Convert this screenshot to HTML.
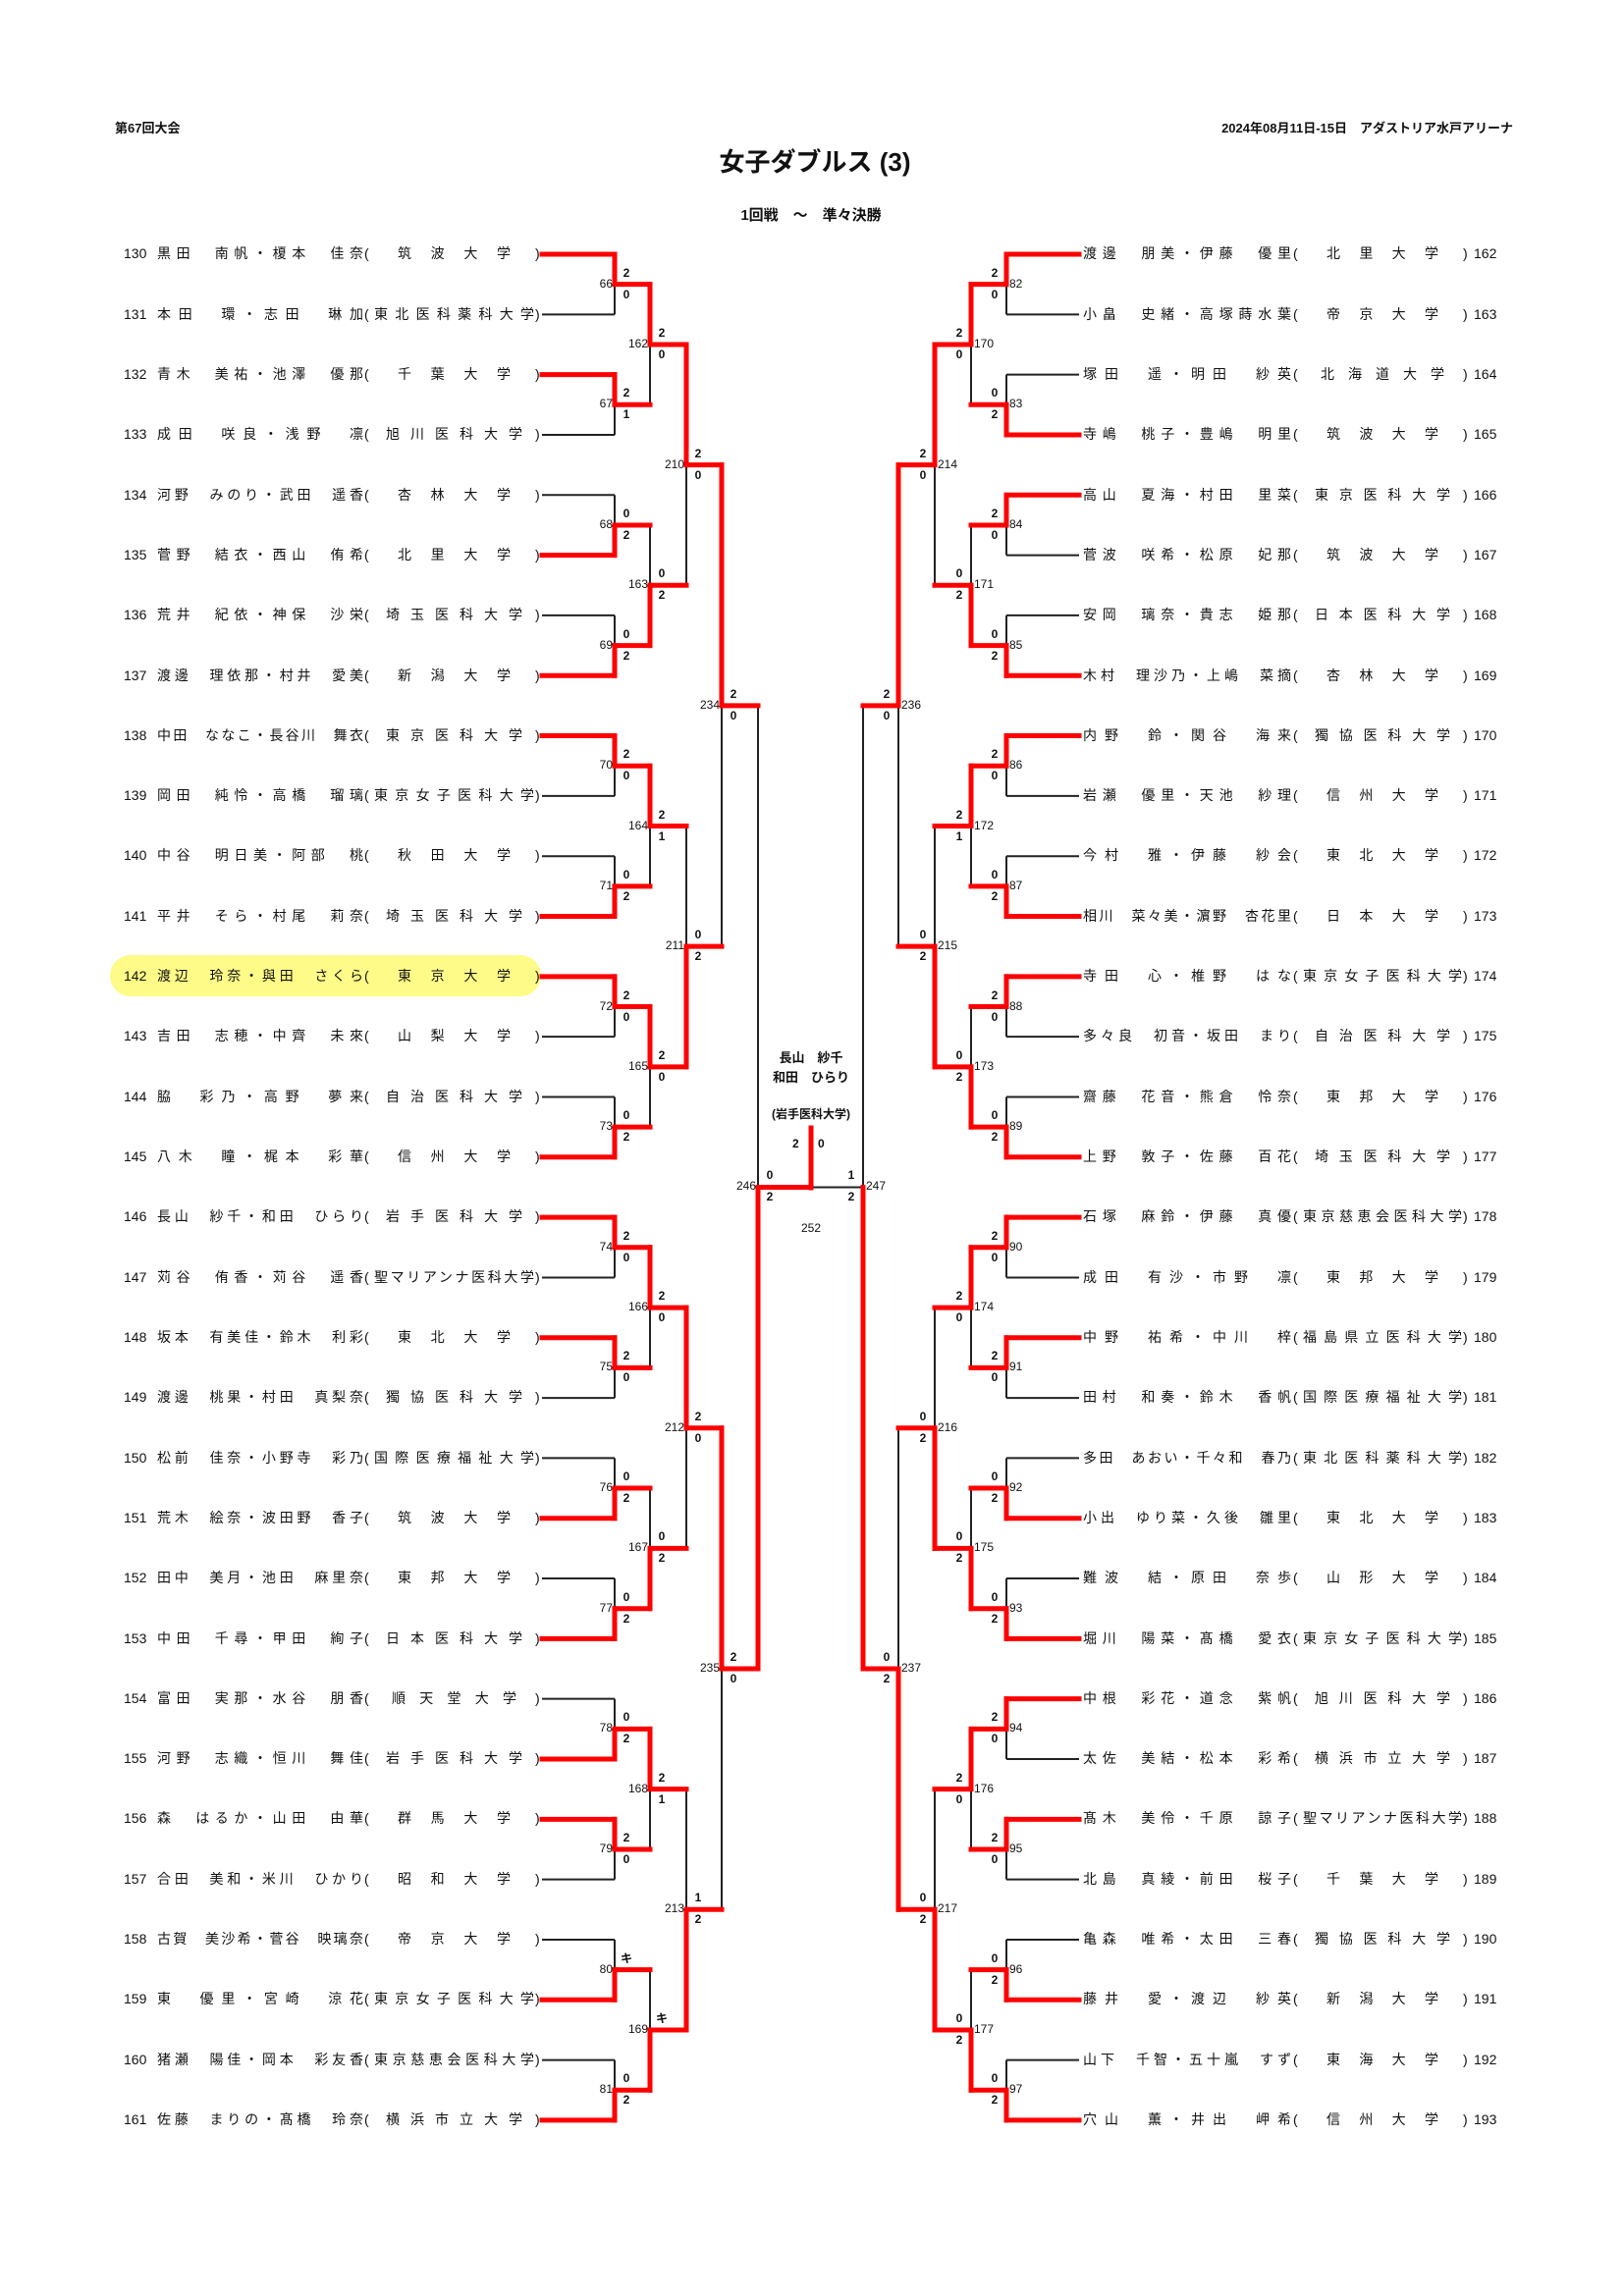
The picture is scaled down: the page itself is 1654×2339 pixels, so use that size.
<!DOCTYPE html>
<html><head><meta charset="utf-8">
<style>
*{margin:0;padding:0;box-sizing:border-box}
body{width:1654px;height:2339px;background:#fff;position:relative;overflow:hidden;font-family:"Liberation Sans","Noto Sans CJK JP",sans-serif;color:#111}
.abs{position:absolute;white-space:nowrap}
.rows{position:absolute;left:0;top:228.34px;width:1654px}
.rows>div{position:relative;height:61.32px;line-height:61.32px;font-size:14px}
.rows i{font-style:normal;position:absolute;top:0;white-space:nowrap}
.rows .nm,.rows .sc{text-align:justify;text-align-last:justify}
.lf .no{left:126px}.lf .nm{left:160px;width:210px}.lf .pa{left:371px}.lf .sc{left:381px;width:163px}.lf .pb{left:545px}
.rt .no{left:1501px}.rt .nm{left:1103px;width:212px}.rt .pa{left:1317px}.rt .sc{left:1327px;width:162px}.rt .pb{left:1490px}
.ml{position:absolute;width:0;height:0;font-size:12px}
.ml span{position:absolute;white-space:nowrap;line-height:14px}
.ml b{position:absolute;width:14px;text-align:center;line-height:14px;font-size:12px}
.ml.L span{right:2px;top:-8px}
.ml.L b{left:5px}
.ml.R span{left:3px;top:-8px}
.ml.R b{right:5px}
.ml b.t{top:-19px}.ml b.u{top:3px}
svg{position:absolute;left:0;top:0}
</style></head><body>
<div class="abs" style="left:117px;top:120px;font-size:13px;font-weight:bold">第67回大会</div>
<div class="abs" style="right:113px;top:120px;font-size:13px;font-weight:bold">2024年08月11日-15日　アダストリア水戸アリーナ</div>
<div class="abs" style="left:0;width:1660px;text-align:center;top:145px;font-size:26px;font-weight:bold">女子ダブルス (3)</div>
<div class="abs" style="left:0;width:1652px;text-align:center;top:208px;font-size:15px;font-weight:bold">1回戦　～　準々決勝</div>
<div class="abs" style="left:112px;top:973px;width:439px;height:42px;border-radius:21px;background:#fffb88"></div>

<svg id="sv" width="1654" height="2339"></svg>

<div class="rows lf">
<div><i class="no">130</i><i class="nm">黒田　南帆・榎本　佳奈</i><i class="pa">(</i><i class="sc">筑波大学</i><i class="pb">)</i></div>
<div><i class="no">131</i><i class="nm">本田　環・志田　琳加</i><i class="pa">(</i><i class="sc">東北医科薬科大学</i><i class="pb">)</i></div>
<div><i class="no">132</i><i class="nm">青木　美祐・池澤　優那</i><i class="pa">(</i><i class="sc">千葉大学</i><i class="pb">)</i></div>
<div><i class="no">133</i><i class="nm">成田　咲良・浅野　凛</i><i class="pa">(</i><i class="sc">旭川医科大学</i><i class="pb">)</i></div>
<div><i class="no">134</i><i class="nm">河野　みのり・武田　遥香</i><i class="pa">(</i><i class="sc">杏林大学</i><i class="pb">)</i></div>
<div><i class="no">135</i><i class="nm">菅野　結衣・西山　侑希</i><i class="pa">(</i><i class="sc">北里大学</i><i class="pb">)</i></div>
<div><i class="no">136</i><i class="nm">荒井　紀依・神保　沙栄</i><i class="pa">(</i><i class="sc">埼玉医科大学</i><i class="pb">)</i></div>
<div><i class="no">137</i><i class="nm">渡邊　理依那・村井　愛美</i><i class="pa">(</i><i class="sc">新潟大学</i><i class="pb">)</i></div>
<div><i class="no">138</i><i class="nm">中田　ななこ・長谷川　舞衣</i><i class="pa">(</i><i class="sc">東京医科大学</i><i class="pb">)</i></div>
<div><i class="no">139</i><i class="nm">岡田　純怜・高橋　瑠璃</i><i class="pa">(</i><i class="sc">東京女子医科大学</i><i class="pb">)</i></div>
<div><i class="no">140</i><i class="nm">中谷　明日美・阿部　桃</i><i class="pa">(</i><i class="sc">秋田大学</i><i class="pb">)</i></div>
<div><i class="no">141</i><i class="nm">平井　そら・村尾　莉奈</i><i class="pa">(</i><i class="sc">埼玉医科大学</i><i class="pb">)</i></div>
<div><i class="no">142</i><i class="nm">渡辺　玲奈・與田　さくら</i><i class="pa">(</i><i class="sc">東京大学</i><i class="pb">)</i></div>
<div><i class="no">143</i><i class="nm">吉田　志穂・中齊　未來</i><i class="pa">(</i><i class="sc">山梨大学</i><i class="pb">)</i></div>
<div><i class="no">144</i><i class="nm">脇　彩乃・高野　夢来</i><i class="pa">(</i><i class="sc">自治医科大学</i><i class="pb">)</i></div>
<div><i class="no">145</i><i class="nm">八木　瞳・梶本　彩華</i><i class="pa">(</i><i class="sc">信州大学</i><i class="pb">)</i></div>
<div><i class="no">146</i><i class="nm">長山　紗千・和田　ひらり</i><i class="pa">(</i><i class="sc">岩手医科大学</i><i class="pb">)</i></div>
<div><i class="no">147</i><i class="nm">苅谷　侑香・苅谷　遥香</i><i class="pa">(</i><i class="sc">聖マリアンナ医科大学</i><i class="pb">)</i></div>
<div><i class="no">148</i><i class="nm">坂本　有美佳・鈴木　利彩</i><i class="pa">(</i><i class="sc">東北大学</i><i class="pb">)</i></div>
<div><i class="no">149</i><i class="nm">渡邊　桃果・村田　真梨奈</i><i class="pa">(</i><i class="sc">獨協医科大学</i><i class="pb">)</i></div>
<div><i class="no">150</i><i class="nm">松前　佳奈・小野寺　彩乃</i><i class="pa">(</i><i class="sc">国際医療福祉大学</i><i class="pb">)</i></div>
<div><i class="no">151</i><i class="nm">荒木　絵奈・波田野　香子</i><i class="pa">(</i><i class="sc">筑波大学</i><i class="pb">)</i></div>
<div><i class="no">152</i><i class="nm">田中　美月・池田　麻里奈</i><i class="pa">(</i><i class="sc">東邦大学</i><i class="pb">)</i></div>
<div><i class="no">153</i><i class="nm">中田　千尋・甲田　絢子</i><i class="pa">(</i><i class="sc">日本医科大学</i><i class="pb">)</i></div>
<div><i class="no">154</i><i class="nm">富田　実那・水谷　朋香</i><i class="pa">(</i><i class="sc">順天堂大学</i><i class="pb">)</i></div>
<div><i class="no">155</i><i class="nm">河野　志織・恒川　舞佳</i><i class="pa">(</i><i class="sc">岩手医科大学</i><i class="pb">)</i></div>
<div><i class="no">156</i><i class="nm">森　はるか・山田　由華</i><i class="pa">(</i><i class="sc">群馬大学</i><i class="pb">)</i></div>
<div><i class="no">157</i><i class="nm">合田　美和・米川　ひかり</i><i class="pa">(</i><i class="sc">昭和大学</i><i class="pb">)</i></div>
<div><i class="no">158</i><i class="nm">古賀　美沙希・菅谷　映璃奈</i><i class="pa">(</i><i class="sc">帝京大学</i><i class="pb">)</i></div>
<div><i class="no">159</i><i class="nm">東　優里・宮崎　涼花</i><i class="pa">(</i><i class="sc">東京女子医科大学</i><i class="pb">)</i></div>
<div><i class="no">160</i><i class="nm">猪瀬　陽佳・岡本　彩友香</i><i class="pa">(</i><i class="sc">東京慈恵会医科大学</i><i class="pb">)</i></div>
<div><i class="no">161</i><i class="nm">佐藤　まりの・髙橋　玲奈</i><i class="pa">(</i><i class="sc">横浜市立大学</i><i class="pb">)</i></div>
</div>

<div class="rows rt">
<div><i class="nm">渡邊　朋美・伊藤　優里</i><i class="pa">(</i><i class="sc">北里大学</i><i class="pb">)</i><i class="no">162</i></div>
<div><i class="nm">小畠　史緒・高塚蒔水葉</i><i class="pa">(</i><i class="sc">帝京大学</i><i class="pb">)</i><i class="no">163</i></div>
<div><i class="nm">塚田　遥・明田　紗英</i><i class="pa">(</i><i class="sc">北海道大学</i><i class="pb">)</i><i class="no">164</i></div>
<div><i class="nm">寺嶋　桃子・豊嶋　明里</i><i class="pa">(</i><i class="sc">筑波大学</i><i class="pb">)</i><i class="no">165</i></div>
<div><i class="nm">高山　夏海・村田　里菜</i><i class="pa">(</i><i class="sc">東京医科大学</i><i class="pb">)</i><i class="no">166</i></div>
<div><i class="nm">菅波　咲希・松原　妃那</i><i class="pa">(</i><i class="sc">筑波大学</i><i class="pb">)</i><i class="no">167</i></div>
<div><i class="nm">安岡　璃奈・貴志　姫那</i><i class="pa">(</i><i class="sc">日本医科大学</i><i class="pb">)</i><i class="no">168</i></div>
<div><i class="nm">木村　理沙乃・上嶋　菜摘</i><i class="pa">(</i><i class="sc">杏林大学</i><i class="pb">)</i><i class="no">169</i></div>
<div><i class="nm">内野　鈴・関谷　海来</i><i class="pa">(</i><i class="sc">獨協医科大学</i><i class="pb">)</i><i class="no">170</i></div>
<div><i class="nm">岩瀬　優里・天池　紗理</i><i class="pa">(</i><i class="sc">信州大学</i><i class="pb">)</i><i class="no">171</i></div>
<div><i class="nm">今村　雅・伊藤　紗会</i><i class="pa">(</i><i class="sc">東北大学</i><i class="pb">)</i><i class="no">172</i></div>
<div><i class="nm">相川　菜々美・濵野　杏花里</i><i class="pa">(</i><i class="sc">日本大学</i><i class="pb">)</i><i class="no">173</i></div>
<div><i class="nm">寺田　心・椎野　はな</i><i class="pa">(</i><i class="sc">東京女子医科大学</i><i class="pb">)</i><i class="no">174</i></div>
<div><i class="nm">多々良　初音・坂田　まり</i><i class="pa">(</i><i class="sc">自治医科大学</i><i class="pb">)</i><i class="no">175</i></div>
<div><i class="nm">齋藤　花音・熊倉　怜奈</i><i class="pa">(</i><i class="sc">東邦大学</i><i class="pb">)</i><i class="no">176</i></div>
<div><i class="nm">上野　敦子・佐藤　百花</i><i class="pa">(</i><i class="sc">埼玉医科大学</i><i class="pb">)</i><i class="no">177</i></div>
<div><i class="nm">石塚　麻鈴・伊藤　真優</i><i class="pa">(</i><i class="sc">東京慈恵会医科大学</i><i class="pb">)</i><i class="no">178</i></div>
<div><i class="nm">成田　有沙・市野　凛</i><i class="pa">(</i><i class="sc">東邦大学</i><i class="pb">)</i><i class="no">179</i></div>
<div><i class="nm">中野　祐希・中川　梓</i><i class="pa">(</i><i class="sc">福島県立医科大学</i><i class="pb">)</i><i class="no">180</i></div>
<div><i class="nm">田村　和奏・鈴木　香帆</i><i class="pa">(</i><i class="sc">国際医療福祉大学</i><i class="pb">)</i><i class="no">181</i></div>
<div><i class="nm">多田　あおい・千々和　春乃</i><i class="pa">(</i><i class="sc">東北医科薬科大学</i><i class="pb">)</i><i class="no">182</i></div>
<div><i class="nm">小出　ゆり菜・久後　雛里</i><i class="pa">(</i><i class="sc">東北大学</i><i class="pb">)</i><i class="no">183</i></div>
<div><i class="nm">難波　結・原田　奈歩</i><i class="pa">(</i><i class="sc">山形大学</i><i class="pb">)</i><i class="no">184</i></div>
<div><i class="nm">堀川　陽菜・髙橋　愛衣</i><i class="pa">(</i><i class="sc">東京女子医科大学</i><i class="pb">)</i><i class="no">185</i></div>
<div><i class="nm">中根　彩花・道念　紫帆</i><i class="pa">(</i><i class="sc">旭川医科大学</i><i class="pb">)</i><i class="no">186</i></div>
<div><i class="nm">太佐　美結・松本　彩希</i><i class="pa">(</i><i class="sc">横浜市立大学</i><i class="pb">)</i><i class="no">187</i></div>
<div><i class="nm">髙木　美伶・千原　諒子</i><i class="pa">(</i><i class="sc">聖マリアンナ医科大学</i><i class="pb">)</i><i class="no">188</i></div>
<div><i class="nm">北島　真綾・前田　桜子</i><i class="pa">(</i><i class="sc">千葉大学</i><i class="pb">)</i><i class="no">189</i></div>
<div><i class="nm">亀森　唯希・太田　三春</i><i class="pa">(</i><i class="sc">獨協医科大学</i><i class="pb">)</i><i class="no">190</i></div>
<div><i class="nm">藤井　愛・渡辺　紗英</i><i class="pa">(</i><i class="sc">新潟大学</i><i class="pb">)</i><i class="no">191</i></div>
<div><i class="nm">山下　千智・五十嵐　すず</i><i class="pa">(</i><i class="sc">東海大学</i><i class="pb">)</i><i class="no">192</i></div>
<div><i class="nm">穴山　薫・井出　岬希</i><i class="pa">(</i><i class="sc">信州大学</i><i class="pb">)</i><i class="no">193</i></div>
</div>

<div id="labels">
<div class="ml L"><span>66</span><b class="t">2</b><b class="u">0</b></div>
<div class="ml L"><span>67</span><b class="t">2</b><b class="u">1</b></div>
<div class="ml L"><span>68</span><b class="t">0</b><b class="u">2</b></div>
<div class="ml L"><span>69</span><b class="t">0</b><b class="u">2</b></div>
<div class="ml L"><span>70</span><b class="t">2</b><b class="u">0</b></div>
<div class="ml L"><span>71</span><b class="t">0</b><b class="u">2</b></div>
<div class="ml L"><span>72</span><b class="t">2</b><b class="u">0</b></div>
<div class="ml L"><span>73</span><b class="t">0</b><b class="u">2</b></div>
<div class="ml L"><span>74</span><b class="t">2</b><b class="u">0</b></div>
<div class="ml L"><span>75</span><b class="t">2</b><b class="u">0</b></div>
<div class="ml L"><span>76</span><b class="t">0</b><b class="u">2</b></div>
<div class="ml L"><span>77</span><b class="t">0</b><b class="u">2</b></div>
<div class="ml L"><span>78</span><b class="t">0</b><b class="u">2</b></div>
<div class="ml L"><span>79</span><b class="t">2</b><b class="u">0</b></div>
<div class="ml L"><span>80</span><b class="t">キ</b></div>
<div class="ml L"><span>81</span><b class="t">0</b><b class="u">2</b></div>
<div class="ml L"><span>162</span><b class="t">2</b><b class="u">0</b></div>
<div class="ml L"><span>163</span><b class="t">0</b><b class="u">2</b></div>
<div class="ml L"><span>164</span><b class="t">2</b><b class="u">1</b></div>
<div class="ml L"><span>165</span><b class="t">2</b><b class="u">0</b></div>
<div class="ml L"><span>166</span><b class="t">2</b><b class="u">0</b></div>
<div class="ml L"><span>167</span><b class="t">0</b><b class="u">2</b></div>
<div class="ml L"><span>168</span><b class="t">2</b><b class="u">1</b></div>
<div class="ml L"><span>169</span><b class="t">キ</b></div>
<div class="ml L"><span>210</span><b class="t">2</b><b class="u">0</b></div>
<div class="ml L"><span>211</span><b class="t">0</b><b class="u">2</b></div>
<div class="ml L"><span>212</span><b class="t">2</b><b class="u">0</b></div>
<div class="ml L"><span>213</span><b class="t">1</b><b class="u">2</b></div>
<div class="ml L"><span>234</span><b class="t">2</b><b class="u">0</b></div>
<div class="ml L"><span>235</span><b class="t">2</b><b class="u">0</b></div>
<div class="ml L"><span>246</span><b class="t">0</b><b class="u">2</b></div>
<div class="ml R"><span>82</span><b class="t">2</b><b class="u">0</b></div>
<div class="ml R"><span>83</span><b class="t">0</b><b class="u">2</b></div>
<div class="ml R"><span>84</span><b class="t">2</b><b class="u">0</b></div>
<div class="ml R"><span>85</span><b class="t">0</b><b class="u">2</b></div>
<div class="ml R"><span>86</span><b class="t">2</b><b class="u">0</b></div>
<div class="ml R"><span>87</span><b class="t">0</b><b class="u">2</b></div>
<div class="ml R"><span>88</span><b class="t">2</b><b class="u">0</b></div>
<div class="ml R"><span>89</span><b class="t">0</b><b class="u">2</b></div>
<div class="ml R"><span>90</span><b class="t">2</b><b class="u">0</b></div>
<div class="ml R"><span>91</span><b class="t">2</b><b class="u">0</b></div>
<div class="ml R"><span>92</span><b class="t">0</b><b class="u">2</b></div>
<div class="ml R"><span>93</span><b class="t">0</b><b class="u">2</b></div>
<div class="ml R"><span>94</span><b class="t">2</b><b class="u">0</b></div>
<div class="ml R"><span>95</span><b class="t">2</b><b class="u">0</b></div>
<div class="ml R"><span>96</span><b class="t">0</b><b class="u">2</b></div>
<div class="ml R"><span>97</span><b class="t">0</b><b class="u">2</b></div>
<div class="ml R"><span>170</span><b class="t">2</b><b class="u">0</b></div>
<div class="ml R"><span>171</span><b class="t">0</b><b class="u">2</b></div>
<div class="ml R"><span>172</span><b class="t">2</b><b class="u">1</b></div>
<div class="ml R"><span>173</span><b class="t">0</b><b class="u">2</b></div>
<div class="ml R"><span>174</span><b class="t">2</b><b class="u">0</b></div>
<div class="ml R"><span>175</span><b class="t">0</b><b class="u">2</b></div>
<div class="ml R"><span>176</span><b class="t">2</b><b class="u">0</b></div>
<div class="ml R"><span>177</span><b class="t">0</b><b class="u">2</b></div>
<div class="ml R"><span>214</span><b class="t">2</b><b class="u">0</b></div>
<div class="ml R"><span>215</span><b class="t">0</b><b class="u">2</b></div>
<div class="ml R"><span>216</span><b class="t">0</b><b class="u">2</b></div>
<div class="ml R"><span>217</span><b class="t">0</b><b class="u">2</b></div>
<div class="ml R"><span>236</span><b class="t">2</b><b class="u">0</b></div>
<div class="ml R"><span>237</span><b class="t">0</b><b class="u">2</b></div>
<div class="ml R"><span>247</span><b class="t">1</b><b class="u">2</b></div>
</div>

<div class="abs" style="left:726px;width:200px;text-align:center;top:1068px;font-size:13px;font-weight:bold;line-height:20px">長山　紗千<br>和田　ひらり</div>
<div class="abs" style="left:726px;width:200px;text-align:center;top:1126px;font-size:12px;font-weight:bold">(岩手医科大学)</div>
<div class="abs" style="left:807px;top:1158px;font-size:12px;font-weight:bold">2</div>
<div class="abs" style="left:833px;top:1158px;font-size:12px;font-weight:bold">0</div>
<div class="abs" style="left:726px;width:200px;text-align:center;top:1244px;font-size:12px">252</div>

<script>
(function(){
var P=61.32,Y0=259,C=826;
function ry(i){return Y0+P*i;}
var sv=document.getElementById('sv');
var blk=[],red=[];
function ln(x1,y1,x2,y2,isr){(isr?red:blk).push([x1,y1,x2,y2]);}
var sides=[
 {xs:[552,626,662,699,735,772],W:["TTBBTBTBTTBBBTBB","TBTTTBTB","TBTB","TT","B"],L:true},
 {xs:[1099,1025,989,952,915,879],W:["TBTBTBTBTTBBTTBB","TBTBTBTB","TBBB","TB","B"],L:false}
];
var labs=document.querySelectorAll('#labels .ml');var li=0;
sides.forEach(function(s){
  var ys=[],rd=[];
  for(var i=0;i<32;i++){ys.push(ry(i));var w=s.W[0][i>>1];rd.push((i%2==0&&w=='T')||(i%2==1&&w=='B'));}
  for(var r=0;r<5;r++){
    var xp=s.xs[r],xv=s.xs[r+1],nys=[],nrd=[];
    for(var k=0;k<ys.length/2;k++){
      var ya=ys[2*k],yb=ys[2*k+1],ym=(ya+yb)/2,w2=s.W[r][k];
      ln(xp,ya,xv,ya,rd[2*k]);ln(xp,yb,xv,yb,rd[2*k+1]);
      ln(xv,ya,xv,ym,w2=='T');ln(xv,ym,xv,yb,w2=='B');
      nys.push(ym);nrd.push(true);
      var el=labs[li++];if(el){el.style.left=xv+'px';el.style.top=ym+'px';}
    }
    ys=nys;rd=nrd;
  }
  ln(s.xs[5],ys[0],C,ys[0],s.L);
});
ln(C,1149,C,1210,true);
var h='';
blk.forEach(function(a){h+='<line x1="'+a[0]+'" y1="'+a[1]+'" x2="'+a[2]+'" y2="'+a[3]+'" stroke="#222" stroke-width="2"/>';});
red.forEach(function(a){h+='<line x1="'+a[0]+'" y1="'+a[1]+'" x2="'+a[2]+'" y2="'+a[3]+'" stroke="#ff0000" stroke-width="5" stroke-linecap="square"/>';});
sv.innerHTML=h;
document.querySelectorAll('.rows .sc').forEach(function(e){
  var n=e.textContent.length;var p=Math.max(0,(8-n)*6);
  e.style.paddingLeft=p+'px';e.style.paddingRight=p+'px';
});
})();
</script>
</body></html>
